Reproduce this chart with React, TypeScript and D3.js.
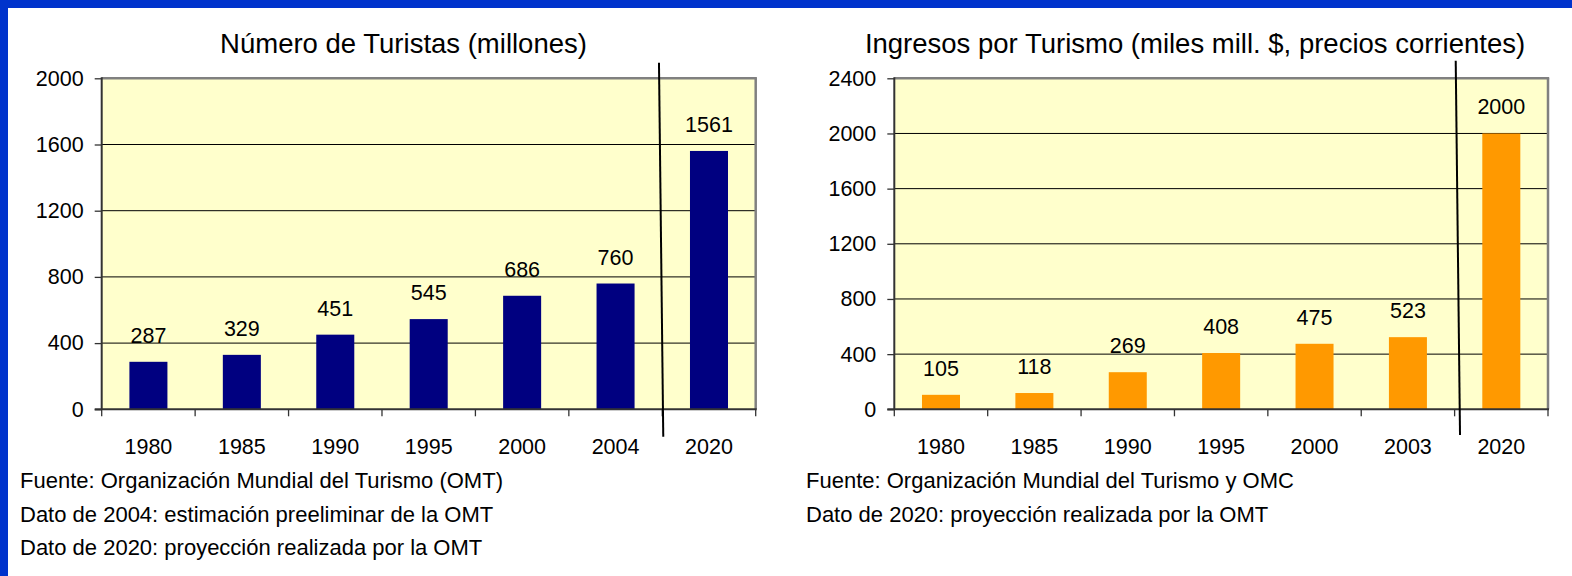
import { useEffect, useRef } from "react"
import * as d3 from "d3"

// Número de turistas (millones)
const turistasYears = ["1980", "1985", "1990", "1995", "2000", "2004", "2020"]
const turistasValues = [287, 329, 451, 545, 686, 760, 1561]
const turistasTicks = [0, 400, 800, 1200, 1600, 2000]
const turistasNotes = [
  "Fuente: Organización Mundial del Turismo (OMT)",
  "Dato de 2004: estimación preeliminar de la OMT",
  "Dato de 2020: proyección realizada por la OMT",
]

// Ingresos por turismo (miles mill. $)
const ingresosYears = ["1980", "1985", "1990", "1995", "2000", "2003", "2020"]
const ingresosValues = [105, 118, 269, 408, 475, 523, 2000]
const ingresosTicks = [0, 400, 800, 1200, 1600, 2000, 2400]
const ingresosNotes = [
  "Fuente: Organización Mundial del Turismo y OMC",
  "Dato de 2020: proyección realizada por la OMT",
]

const FONT = "'Liberation Sans', Arial, sans-serif"
const TOP = 78.3
const BOTTOM = 409.3
const NUM_SIZE = 21.5

interface PanelProps {
  title: string
  titleX: number
  years: string[]
  values: number[]
  ticks: number[]
  color: string
  left: number
  right: number
  notes: string[]
  notesX: number
  sep: [number, number, number, number]
}

function BarPanel({ title, titleX, years, values, ticks, color, left, right, notes, notesX, sep }: PanelProps) {
  const yAxisRef = useRef<SVGGElement>(null)
  const xAxisRef = useRef<SVGGElement>(null)

  const slot = d3.scaleBand().domain(years).range([left, right])
  const y = d3.scaleLinear().domain([0, d3.max(ticks) as number]).range([BOTTOM, TOP])
  const bw = slot.bandwidth() * 0.407
  const boundaries = years.map((c) => slot(c) as number).concat([right])
  const sepX = slot(years[years.length - 1]) as number

  useEffect(() => {
    const gy = d3.select(yAxisRef.current)
    gy.selectAll("*").remove()
    gy.call(d3.axisLeft(y).tickValues(ticks).tickSize(7).tickPadding(11).tickFormat(d3.format("d")))
    gy.select(".domain").remove()
    gy.selectAll("line").attr("stroke", "#333").attr("stroke-width", 1.3)
    gy.selectAll("text").attr("font-family", FONT).attr("font-size", NUM_SIZE).attr("fill", "#000")

    const gx = d3.select(xAxisRef.current)
    gx.selectAll("*").remove()
    gx.call(d3.axisBottom(slot).tickSize(0).tickPadding(29))
    gx.select(".domain").remove()
    gx.selectAll("text").attr("font-family", FONT).attr("font-size", NUM_SIZE).attr("fill", "#000")
  })

  return (
    <g>
      <text x={titleX} y={53} textAnchor="middle" fontFamily={FONT} fontSize={27.5} fill="#000">
        {title}
      </text>
      <rect x={left} y={TOP} width={right - left} height={BOTTOM - TOP} fill="#FFFFCC" />
      {ticks.slice(1, -1).map((t) => (
        <line key={t} x1={left} x2={right} y1={y(t)} y2={y(t)} stroke="#000" strokeWidth={1} />
      ))}
      {/* plot border */}
      <line x1={left} x2={right + 1.2} y1={TOP} y2={TOP} stroke="#808080" strokeWidth={2.5} />
      <line x1={right} x2={right} y1={TOP} y2={BOTTOM} stroke="#808080" strokeWidth={2.5} />
      {values.map((v, i) => {
        const cx = (slot(years[i]) as number) + slot.bandwidth() / 2
        return (
          <g key={years[i]}>
            <rect x={cx - bw / 2} y={y(v)} width={bw} height={BOTTOM - y(v)} fill={color} />
            <text x={cx} y={y(v) - 19} textAnchor="middle" fontFamily={FONT} fontSize={NUM_SIZE} fill="#000">
              {v}
            </text>
          </g>
        )
      })}
      {/* axes lines */}
      <line x1={left} x2={left} y1={TOP - 1} y2={BOTTOM} stroke="#333" strokeWidth={2} />
      <line x1={left - 7} x2={right + 1} y1={BOTTOM} y2={BOTTOM} stroke="#333" strokeWidth={2} />
      {boundaries.map((b, i) => (
        <line key={i} x1={b} x2={b} y1={BOTTOM} y2={BOTTOM + 7} stroke="#333" strokeWidth={1.3} />
      ))}
      <g ref={yAxisRef} transform={`translate(${left},0)`} />
      <g ref={xAxisRef} transform={`translate(0,${BOTTOM})`} />
      {/* separator between historical data and projection */}
      <line x1={sepX + sep[0]} y1={sep[2]} x2={sepX + sep[1]} y2={sep[3]} stroke="#000" strokeWidth={2} />
      {notes.map((n, i) => (
        <text key={i} x={notesX} y={488 + i * 33.5} fontFamily={FONT} fontSize={22} fill="#000">
          {n}
        </text>
      ))}
    </g>
  )
}

export default function App() {
  return (
    <svg
      width={1572}
      height={576}
      style={{ position: "absolute", left: 0, top: 0, background: "#fff" }}
    >
      <rect x={0} y={0} width={1572} height={576} fill="#fff" />
      <rect x={0} y={0} width={1572} height={8} fill="#0033CC" />
      <rect x={0} y={0} width={8} height={576} fill="#0033CC" />
      <BarPanel
        title="Número de Turistas (millones)"
        titleX={403.5}
        years={turistasYears}
        values={turistasValues}
        ticks={turistasTicks}
        color="#000080"
        left={101.7}
        right={755.7}
        notes={turistasNotes}
        notesX={20}
        sep={[-3.3, 1, 62.7, 436.7]}
      />
      <BarPanel
        title="Ingresos por Turismo (miles mill. $, precios corrientes)"
        titleX={1195}
        years={ingresosYears}
        values={ingresosValues}
        ticks={ingresosTicks}
        color="#FF9900"
        left={894.3}
        right={1548}
        notes={ingresosNotes}
        notesX={806}
        sep={[1.1, 5.4, 60.7, 435]}
      />
    </svg>
  )
}
